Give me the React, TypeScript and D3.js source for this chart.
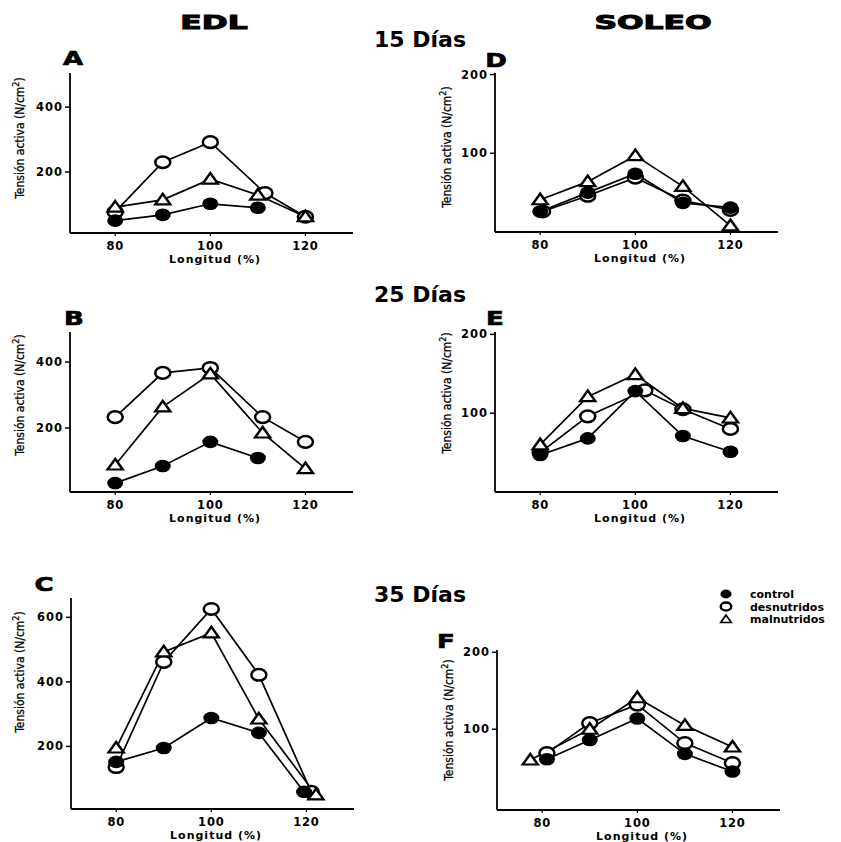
import React from "react";
import * as d3 from "d3";

// Longitud (%) and Tensión activa (N/cm2)
const seriesNames = ["control", "desnutridos", "malnutridos"];
const xTicks = [80, 100, 120];

// A - EDL 15 días
const aControlX = [80, 90, 100, 110];
const aControlY = [50, 68, 102, 90];
const aDesnutX = [80, 90, 100, 111.5, 120];
const aDesnutY = [77, 230, 292, 135, 62];
const aMalnutX = [80, 90, 100, 110, 120];
const aMalnutY = [92, 114, 178, 129, 62];

// B - EDL 25 días
const bControlX = [80, 90, 100, 110];
const bControlY = [33, 85, 158, 109];
const bDesnutX = [80, 90, 100, 111, 120];
const bDesnutY = [233, 367, 382, 233, 158];
const bMalnutX = [80, 90, 100, 111, 120];
const bMalnutY = [88, 264, 364, 185, 77];

// C - EDL 35 días
const cControlX = [80, 90, 100, 110, 119.5];
const cControlY = [152, 195, 288, 242, 59];
const cDesnutX = [80, 90, 100, 110, 121];
const cDesnutY = [136, 462, 626, 422, 59];
const cMalnutX = [80, 90, 100, 110, 122];
const cMalnutY = [195, 493, 552, 285, 50];

// D - SOLEO 15 días
const dControlX = [80, 90, 100, 110, 120];
const dControlY = [26, 50, 74, 37, 31];
const dDesnutX = [80.5, 90, 100, 110, 120];
const dDesnutY = [26, 46, 69, 40, 28];
const dMalnutX = [80, 90, 100, 110, 120];
const dMalnutY = [41, 64, 97, 58, 8];

// E - SOLEO 25 días
const eControlX = [80, 90, 100, 110, 120];
const eControlY = [47, 68, 128, 71, 51];
const eDesnutX = [80, 90, 102, 110, 120];
const eDesnutY = [50, 96, 129, 105, 80];
const eMalnutX = [80, 90, 100, 110, 120];
const eMalnutY = [60, 121, 149, 106, 94];

// F - SOLEO 35 días
const fControlX = [81, 90, 100, 110, 120];
const fControlY = [61, 86, 114, 68, 45];
const fDesnutX = [81, 90, 100, 110, 120];
const fDesnutY = [69, 108, 132, 82, 56];
const fMalnutX = [77.5, 90, 100, 110, 120];
const fMalnutY = [60, 100, 141, 105, 77];

const zip = (xs: number[], ys: number[]) => xs.map((x, i) => ({ x, y: ys[i] }));

const panels = [
  { letter: "A", lx: 73, ly: 65, left: 70, top: 73, bottom: 233, yDom: [12, 505], yTicks: [200, 400], labelY: 138,
    series: [zip(aControlX, aControlY), zip(aDesnutX, aDesnutY), zip(aMalnutX, aMalnutY)] },
  { letter: "B", lx: 74, ly: 325, left: 70, top: 332, bottom: 492, yDom: [6, 491], yTicks: [200, 400], labelY: 395,
    series: [zip(bControlX, bControlY), zip(bDesnutX, bDesnutY), zip(bMalnutX, bMalnutY)] },
  { letter: "C", lx: 44, ly: 591, left: 71, top: 598, bottom: 809, yDom: [6, 660], yTicks: [200, 400, 600], labelY: 672,
    series: [zip(cControlX, cControlY), zip(cDesnutX, cDesnutY), zip(cMalnutX, cMalnutY)] },
  { letter: "D", lx: 496, ly: 67, left: 495, top: 73, bottom: 232, yDom: [0, 202], yTicks: [100, 200], labelY: 147,
    series: [zip(dControlX, dControlY), zip(dDesnutX, dDesnutY), zip(dMalnutX, dMalnutY)] },
  { letter: "E", lx: 495, ly: 325, left: 495, top: 332, bottom: 492, yDom: [0, 203], yTicks: [100, 200], labelY: 393,
    series: [zip(eControlX, eControlY), zip(eDesnutX, eDesnutY), zip(eMalnutX, eMalnutY)] },
  { letter: "F", lx: 446, ly: 648, left: 497, top: 650, bottom: 810, yDom: [-5, 203], yTicks: [100, 200], labelY: 720,
    series: [zip(fControlX, fControlY), zip(fDesnutX, fDesnutY), zip(fMalnutX, fMalnutY)] },
];

const dayLabels = [
  { text: "15 Días", y: 47 },
  { text: "25 Días", y: 302 },
  { text: "35 Días", y: 602 },
];

const BOLD = "'DejaVu Sans', Verdana, sans-serif";
const NARROW = "'Liberation Sans Narrow', 'DejaVu Sans Condensed', 'Arial Narrow', sans-serif";
const triPath = d3.symbol(d3.symbolTriangle, 90)() as string;

function Marker({ kind, cx, cy, small }: { kind: number; cx: number; cy: number; small?: boolean }) {
  const s = small ? 0.7 : 1;
  if (kind === 0) return <ellipse cx={cx} cy={cy} rx={8 * s} ry={6.3 * s} fill="#000" />;
  if (kind === 1)
    return <ellipse cx={cx} cy={cy} rx={7.5 * s} ry={5.8 * s} fill="#fff" stroke="#000" strokeWidth={2.5} />;
  return (
    <path d={triPath} transform={`translate(${cx},${cy + 1}) scale(${1.05 * s},${0.85 * s})`}
      fill="#fff" stroke="#000" strokeWidth={2.5} />
  );
}

function Panel({ p }: { p: (typeof panels)[number] }) {
  const x = d3.scaleLinear().domain([70.5, 130]).range([p.left, p.left + 283]);
  const y = d3.scaleLinear().domain(p.yDom).range([p.bottom, p.top]);
  const line = d3.line<{ x: number; y: number }>().x((d) => x(d.x)).y((d) => y(d.y));
  const order = [1, 2, 0];
  const labelX = p.left < 200 ? 20 : p.left - 48;
  return (
    <g>
      <text transform={`translate(${p.lx},${p.ly}) scale(1.3,1)`} textAnchor="middle" fontFamily={BOLD}
        fontWeight="bold" fontSize={20} stroke="#000" strokeWidth={0.7}>{p.letter}</text>
      <line x1={p.left} x2={p.left} y1={p.top} y2={p.bottom} stroke="#000" strokeWidth={1.8} />
      <line x1={p.left} x2={p.left + 283} y1={p.bottom} y2={p.bottom} stroke="#000" strokeWidth={1.8} />
      {p.yTicks.map((t) => (
        <g key={t}>
          <line x1={p.left - 5} x2={p.left} y1={y(t)} y2={y(t)} stroke="#000" strokeWidth={1.5} />
          <text x={p.left - 7} y={y(t) + 4} textAnchor="end" fontFamily={BOLD} fontWeight="bold"
            fontSize={11.5} letterSpacing={1}>{t}</text>
        </g>
      ))}
      {xTicks.map((t) => (
        <g key={t}>
          <line x1={x(t)} x2={x(t)} y1={p.bottom} y2={p.bottom + 3} stroke="#000" strokeWidth={1.2} />
          <text x={x(t)} y={p.bottom + 17} textAnchor="middle" fontFamily={BOLD} fontWeight="bold"
            fontSize={11.5} letterSpacing={0.8}>{t}</text>
        </g>
      ))}
      <text x={x(101)} y={p.bottom + 30} textAnchor="middle" fontFamily={BOLD} fontWeight="bold"
        fontSize={11} letterSpacing={1}>Longitud (%)</text>
      <text transform={`translate(${labelX + 4},${p.labelY}) rotate(-90)`} textAnchor="middle"
        fontFamily={NARROW} fontSize={12} stroke="#000" strokeWidth={0.25}>
        Tensión activa (N/cm<tspan dy={-5} fontSize={9}>2</tspan><tspan dy={5}>)</tspan>
      </text>
      {order.map((k) => (
        <path key={"l" + k} d={line(p.series[k]) as string} fill="none" stroke="#000" strokeWidth={1.7} />
      ))}
      {order.map((k) =>
        p.series[k].map((d, i) => <Marker key={k + "-" + i} kind={k} cx={x(d.x)} cy={y(d.y)} />)
      )}
    </g>
  );
}

export default function App() {
  return (
    <svg width={841} height={842} style={{ position: "absolute", left: 0, top: 0, background: "#fff" }}>
      <rect width={841} height={842} fill="#fff" />
      <text transform="translate(214,29) scale(1.65,1)" textAnchor="middle" fontFamily={BOLD}
        fontWeight="bold" fontSize={19} stroke="#000" strokeWidth={1}>EDL</text>
      <text transform="translate(653,29) scale(1.65,1)" textAnchor="middle" fontFamily={BOLD}
        fontWeight="bold" fontSize={19} stroke="#000" strokeWidth={1}>SOLEO</text>
      {dayLabels.map((d) => (
        <text key={d.text} x={420} y={d.y} textAnchor="middle" fontFamily={BOLD} fontWeight="bold"
          fontSize={22}>{d.text}</text>
      ))}
      {panels.map((p) => <Panel key={p.letter} p={p} />)}
      {seriesNames.map((name, i) => (
        <g key={name}>
          <Marker kind={i} cx={726} cy={594 + i * 12.5} small />
          <text x={750} y={598 + i * 12.5} fontFamily={BOLD} fontWeight="bold" fontSize={11}>{name}</text>
        </g>
      ))}
    </svg>
  );
}
